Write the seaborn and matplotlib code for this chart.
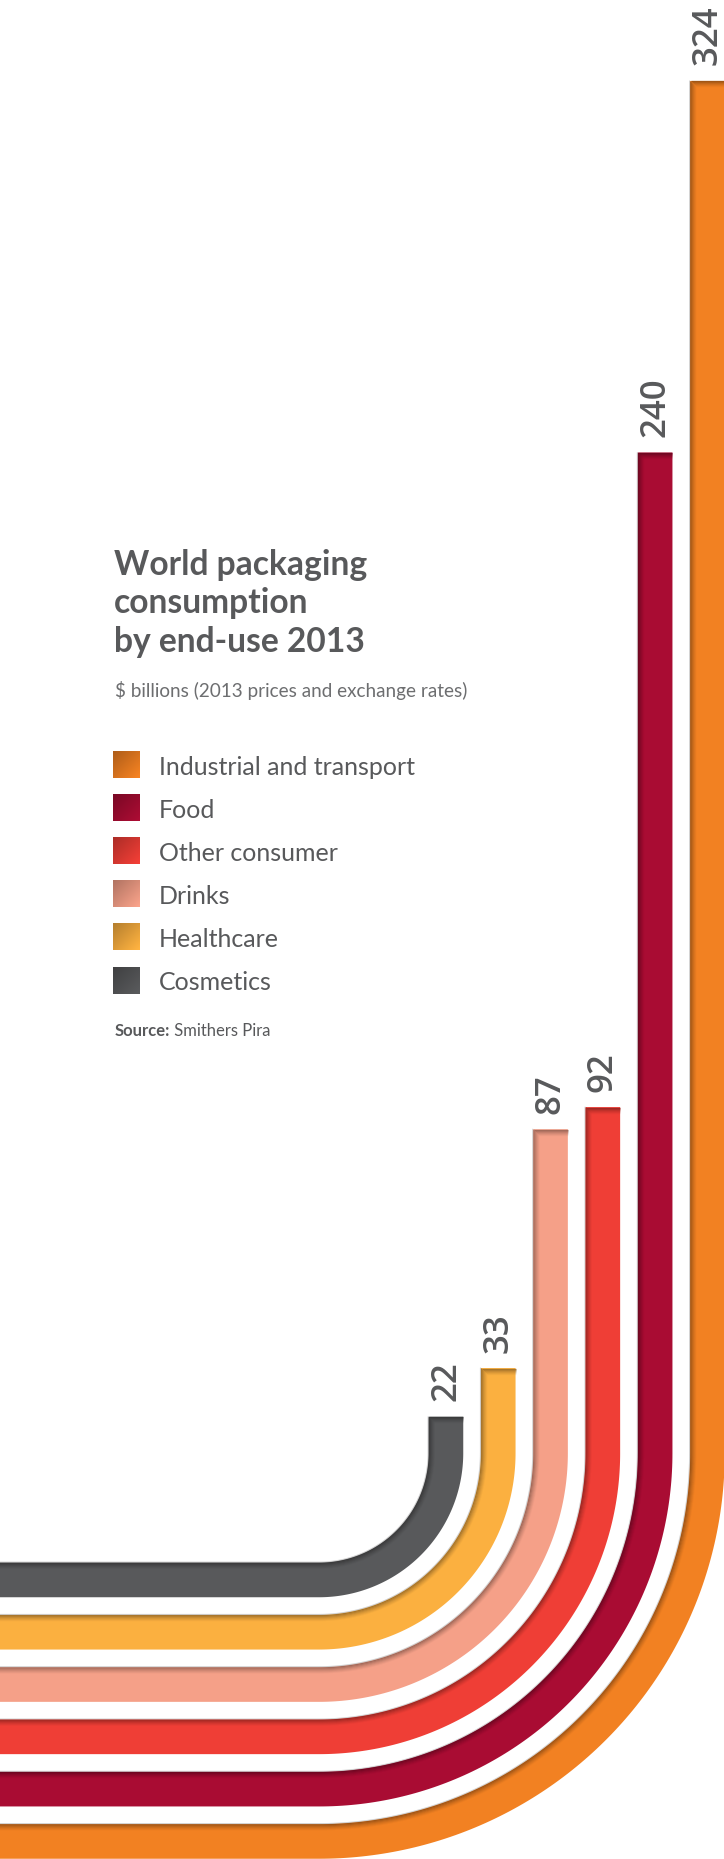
import numpy as np
import pandas as pd
import matplotlib
matplotlib.use("Agg")
import matplotlib.pyplot as plt
import seaborn as sns
from matplotlib.colors import to_rgb

# ---------------- data ----------------
categories = ["Industrial and transport", "Food", "Other consumer",
              "Drinks", "Healthcare", "Cosmetics"]
values = [324, 240, 92, 87, 33, 22]
value_labels = ["324", "240", "92", "87", "33", "22"]
colors = ["#F28122", "#A90C33", "#EF3E36", "#F5A088", "#FBB040", "#58595B"]
title_lines = ["World packaging", "consumption", "by end-use 2013"]
subtitle = "\\$ billions (2013 prices and exchange rates)"
source_bold = "Source:"
source_text = " Smithers Pira"

# ---------------- layout (pixels) ----------------
W, H, DPI = 724, 1859, 100
K = 4.423            # pixels per value unit
Y0 = 1514            # pixel row of value 0
TEXT = "#58595B"

def ux(px):
    return px / K

def uy(py):
    return (Y0 - py) / K

sns.set_theme(style="white")
plt.rcParams["font.family"] = ["Lato", "DejaVu Sans"]

fig = plt.figure(figsize=(W / DPI, H / DPI), dpi=DPI)
ax = fig.add_axes([0, 0, 1, 1])
ax.set_xlim(0, ux(W))
ax.set_ylim(uy(H), uy(0))
ax.axis("off")

cx, cy = ux(319), uy(1453)
r0_px, pitch_px, w_px = 127, 52.3, 34.5
half = w_px / 2 / K
lw_pt = w_px * 72 / DPI


def band_path(r, top, n=120):
    xs = [ux(-10), cx]
    ys = [cy - r, cy - r]
    th = np.linspace(-np.pi / 2, 0, n)
    xs += list(cx + r * np.cos(th))
    ys += list(cy + r * np.sin(th))
    xs += [cx + r]
    ys += [top]
    return pd.DataFrame({"x": xs, "y": ys})


def darker(c, f):
    r, g, b = to_rgb(c)
    return (r * f, g * f, b * f)


n = len(categories)
for idx in range(n):
    i = n - 1 - idx          # 0 = innermost (last category)
    val = values[idx]
    col = colors[idx]
    r = (r0_px + pitch_px * i) / K
    df = band_path(r, val)
    # faint light outline on inner edge
    dfo = band_path(r - half - 0.6 / K, val)
    sns.lineplot(data=dfo, x="x", y="y", sort=False, estimator=None,
                 color="#D0D0D0", linewidth=0.8, ax=ax, legend=False)
    sns.lineplot(data=df, x="x", y="y", sort=False, estimator=None,
                 color=col, linewidth=lw_pt, solid_capstyle="butt",
                 ax=ax, legend=False)
    # inner shadow along upper/left edge
    dark = darker(col, 0.62)
    for j, a in enumerate([0.85, 0.65, 0.45, 0.3, 0.18, 0.08]):
        d = (0.5 + j) / K
        dfs = band_path(r - half + d, val - d)
        sns.lineplot(data=dfs, x="x", y="y", sort=False, estimator=None,
                     color=dark, alpha=a, linewidth=0.9,
                     solid_capstyle="butt", ax=ax, legend=False)
        ax.plot([cx + r - half + d, cx + r + half], [val - d, val - d],
                color=dark, alpha=a, linewidth=0.9, solid_capstyle="butt")
    # value label
    ax.text(cx + r, val + 3.5, value_labels[idx], rotation=90,
            ha="center", va="bottom", fontsize=25, color=TEXT,
            family=["Open Sans", "DejaVu Sans"], fontweight="semibold")

# ---------------- text ----------------
def fx(px):
    return px / W

def fy(py):
    return 1 - py / H

for line, base in zip(title_lines, [575, 613, 651.7]):
    fig.text(fx(114), fy(base), line, fontsize=24.2, fontweight="bold",
             color=TEXT, va="baseline", ha="left")

fig.text(fx(115), fy(696.5), subtitle, fontsize=13.6, color="#6D6E70",
         va="baseline", ha="left")

sq = 27
for idx, (cat, col) in enumerate(zip(categories, colors)):
    top = 751 + idx * 43.1
    base = np.array(to_rgb(col))
    g = np.linspace(0, 1, 32)
    gx, gy = np.meshgrid(g, g)
    t = (gx + gy) / 2
    img = (base * (0.72 + 0.28 * t[..., None] * 1.1)).clip(0, 1)
    ax.imshow(img, extent=[ux(113), ux(113 + sq), uy(top + sq), uy(top)],
              origin="upper", interpolation="bilinear", zorder=3)
    fig.text(fx(159), fy(top + sq - 3.3), cat, fontsize=18, color=TEXT,
             va="baseline", ha="left")

ax.set_xlim(0, ux(W))
ax.set_ylim(uy(H), uy(0))
ax.set_aspect("auto")

t1 = fig.text(fx(115), fy(1036.5), source_bold, fontsize=12,
              fontweight="bold", color=TEXT, va="baseline", ha="left")
fig.canvas.draw()
bb = t1.get_window_extent()
fig.text(bb.x1 / W, fy(1036.5), source_text, fontsize=12, color=TEXT,
         va="baseline", ha="left")

fig.savefig("out.png", dpi=DPI, facecolor="white")
